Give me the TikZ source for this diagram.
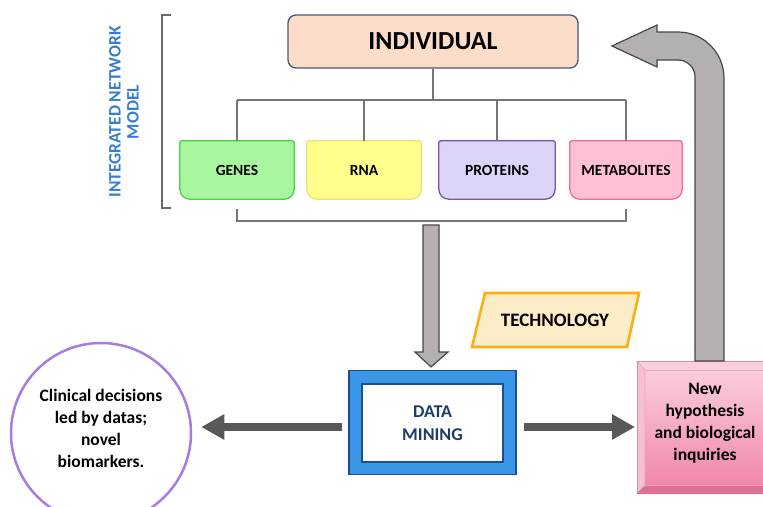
\documentclass[tikz,border=0pt]{standalone}
\usepackage{fontspec}
\setmainfont{Carlito}
\usetikzlibrary{calc,arrows.meta}
\pgfdeclarelayer{background}
\pgfsetlayers{background,main}

% palette
\definecolor{indfill}{RGB}{251,221,201}
\definecolor{inddraw}{RGB}{72,86,118}
\definecolor{linegray}{RGB}{118,118,118}
\definecolor{genfill}{RGB}{170,245,160}
\definecolor{gendraw}{RGB}{70,210,70}
\definecolor{rnafill}{RGB}{255,255,140}
\definecolor{rnadraw}{RGB}{240,222,120}
\definecolor{profill}{RGB}{221,212,250}
\definecolor{prodraw}{RGB}{120,85,165}
\definecolor{metfill}{RGB}{255,192,214}
\definecolor{metdraw}{RGB}{235,110,150}
\definecolor{modelblue}{RGB}{55,125,205}
\definecolor{blockfill}{RGB}{180,176,176}
\definecolor{blockdraw}{RGB}{70,70,70}
\definecolor{darkarrow}{RGB}{88,88,88}
\definecolor{dmblue}{RGB}{58,150,230}
\definecolor{dmdark}{RGB}{28,80,140}
\definecolor{dmtext}{RGB}{30,60,105}
\definecolor{techfill}{RGB}{253,236,200}
\definecolor{techdraw}{RGB}{250,175,20}
\definecolor{circdraw}{RGB}{165,125,225}
\definecolor{pkouter}{RGB}{232,140,175}
\definecolor{pkedge}{RGB}{210,105,145}
\definecolor{pktop}{RGB}{250,208,222}
\definecolor{pkleft}{RGB}{246,192,210}
\definecolor{pkbottom}{RGB}{222,112,150}
\definecolor{pkfacetop}{RGB}{251,205,221}
\definecolor{pkfacebot}{RGB}{240,135,172}

% omics box: nearly square top, rounded bottom
\newcommand\tabpath[3]{%
  \draw[line width=1.3pt, fill=#2, draw=#3]
    ([xshift=2pt]#1.north west)
    arc[start angle=90, end angle=180, radius=2pt]
    -- ([yshift=10pt]#1.south west)
    arc[start angle=180, end angle=270, radius=10pt]
    -- ([xshift=-10pt]#1.south east)
    arc[start angle=270, end angle=360, radius=10pt]
    -- ([yshift=-2pt]#1.north east)
    arc[start angle=0, end angle=90, radius=2pt] -- cycle;}

\tikzset{
  omics/.style={minimum height=58pt, inner sep=0pt,
    font=\fontsize{15.5}{18}\selectfont\bfseries},
  conn/.style={draw=linegray, line width=2pt},
  bigarrow/.style={draw=darkarrow, line width=8pt,
    -{Triangle[length=23pt,width=24pt]}},
  block/.style={fill=blockfill, draw=blockdraw, line width=1.2pt, line join=miter},
  bodytext/.style={align=center, font=\fontsize{17.5}{22}\selectfont\bfseries},
}

\begin{document}
\begin{tikzpicture}[x=1pt,y=-1pt]
\useasboundingbox (0,0) rectangle (763,506);
\clip (0,0) rectangle (763,506);

% top node
\node[draw=inddraw, fill=indfill, line width=1.3pt, rounded corners=8pt,
      minimum width=290pt, minimum height=53pt,
      font=\fontsize{26}{30}\selectfont\bfseries] (ind) at (433,41.5) {INDIVIDUAL};

% omics layer
\node[omics, minimum width=114pt] (genes) at (237,170) {GENES};
\node[omics, minimum width=114pt] (rna)   at (364,170) {RNA};
\node[omics, minimum width=116pt] (prot)  at (497,170) {PROTEINS};
\node[omics, minimum width=112pt] (metab) at (626,170) {METABOLITES};
\begin{pgfonlayer}{background}
  \tabpath{genes}{genfill}{gendraw}
  \tabpath{rna}{rnafill}{rnadraw}
  \tabpath{prot}{profill}{prodraw}
  \tabpath{metab}{metfill}{metdraw}
\end{pgfonlayer}

% tree from the individual to the omics boxes
\coordinate (bus) at (433,100);
\draw[conn] (ind.south) -- (bus);
\draw[conn] (genes.north |- bus) -- (metab.north |- bus);
\foreach \n in {genes,rna,prot,metab}
  \draw[conn] (\n.north |- bus) -- (\n.north);

% lower bracket
\draw[conn] ([yshift=-10pt]genes.south) |- ([yshift=-22pt]metab.south)
  -- ([yshift=-10pt]metab.south);

% side bracket and label
\draw[conn, draw=linegray!90!black] (171,15) -- (162,15) -- (162,208) -- (171,208);
\node[rotate=90, align=center, text=modelblue,
      font=\fontsize{17.5}{18}\selectfont\bfseries] (model) at (124,112)
      {INTEGRATED NETWORK\\MODEL};

% data mining box
\node[fill=dmblue, draw=dmdark, line width=1.2pt,
      minimum width=167pt, minimum height=104pt] (dm) at (432.5,422.5) {};
\node[fill=white, draw=dmdark, line width=1.5pt,
      minimum width=141pt, minimum height=78pt, align=center, text=dmtext,
      font=\fontsize{18}{23}\selectfont\bfseries] (dmin) at (432.5,423) {DATA\\MINING};

% down arrow into data mining
\coordinate (dtop) at (431,225);
\path[block] ($(dtop)+(-8,0)$) -- ($(dtop)+(8,0)$) -- ($(dtop)+(8,127)$)
  -- ($(dtop)+(17,127)$) -- ($(dm.north)+(-1.5,-3)$) -- ($(dtop)+(-16,127)$)
  -- ($(dtop)+(-8,127)$) -- cycle;

% technology tag
\node[bodytext, font=\fontsize{19}{22}\selectfont\bfseries] (tech) at (555,320) {TECHNOLOGY};
\begin{pgfonlayer}{background}
  \draw[fill=techfill, draw=techdraw, line width=2.6pt, line join=miter]
    (485,293) -- (639,293) -- (627,347) -- (472,347) -- cycle;
\end{pgfonlayer}

% clinical outcome
\node[circle, draw=circdraw, line width=2.5pt, minimum size=180pt] (circ) at (101,433) {};
\node[bodytext] (clin) at (101,428)
  {Clinical decisions\\led by datas;\\novel\\biomarkers.};

% hypothesis box with bevel
\draw[fill=pkouter, draw=pkedge, line width=0.8pt] (637,361) rectangle (780,493);
\fill[pktop] (637.5,361.5) -- (780,361.5) -- (780,370) -- (645,370) -- cycle;
\fill[pkleft] (637.5,361.5) -- (645,370) -- (645,485) -- (637.5,492.5) -- cycle;
\fill[pkbottom] (637.5,492.5) -- (645,485) -- (780,485) -- (780,492.5) -- cycle;
\shade[top color=pkfacetop, bottom color=pkfacebot] (645,370) rectangle (780,485);
\draw[pkedge!60!white, line width=0.6pt] (637.5,361.5) -- (645,370) -- (645,485) -- (637.5,492.5);
\draw[pkedge!60!white, line width=0.6pt] (645,370) -- (780,370);
\draw[pkedge!60!white, line width=0.6pt] (645,485) -- (780,485);
\coordinate (hypL) at (637,427);
\coordinate (hypT) at (709.5,361);
\node[bodytext] (hyp) at (705,423)
  {New\\hypothesis\\and biological\\inquiries};

% horizontal arrows out of data mining
\draw[bigarrow] ($(dm.west)+(-6,4.5)$) -- ($(circ.east |- dm.west)+(9,4.5)$);
\draw[bigarrow] ($(dm.east)+(7,4.5)$) -- ($(hypL)+(-2,0)$);

% feedback arrow back to the top
\path[block] ($(hypT)+(-14.5,0)$) -- (695,77)
  arc[start angle=0, end angle=90, radius=17pt]
  -- (657,60) -- (657,67) -- (612,46) -- (657,25) -- (657,32) -- (678,32)
  arc[start angle=90, end angle=0, radius=46pt]
  -- ($(hypT)+(14.5,0)$) -- cycle;
\end{tikzpicture}
\end{document}
